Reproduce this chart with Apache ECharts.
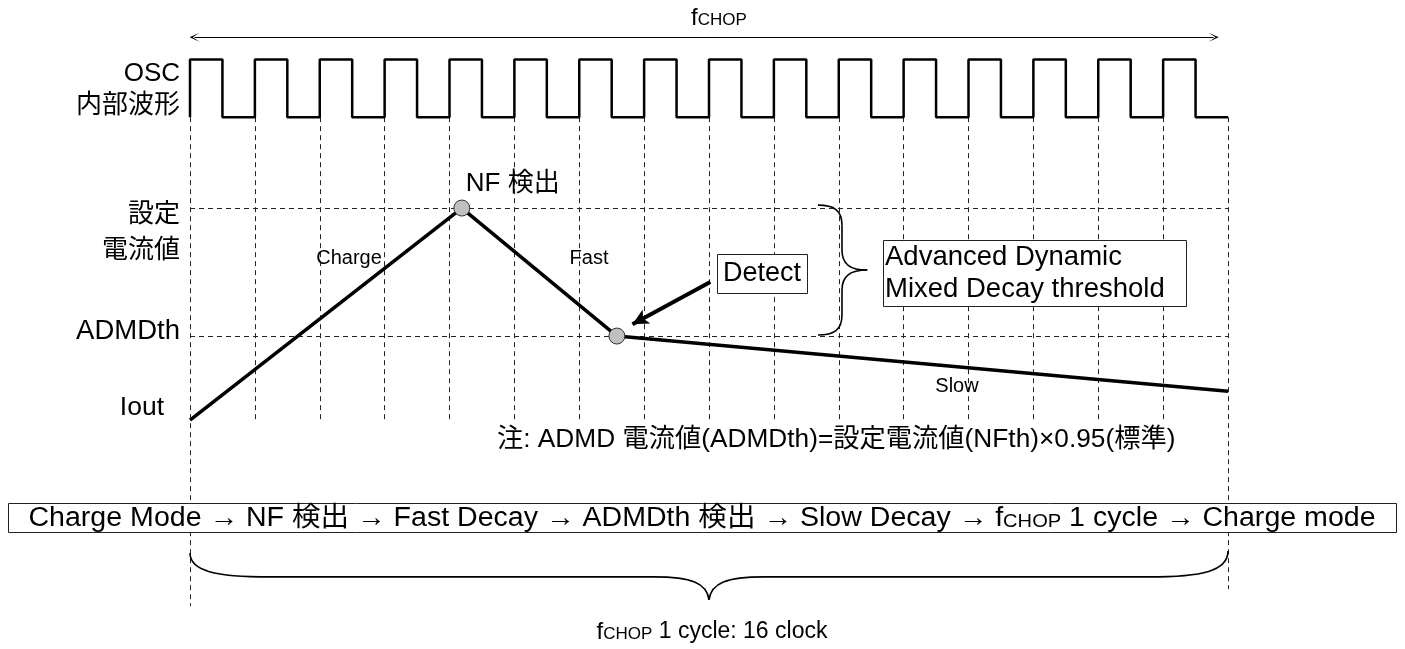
<!DOCTYPE html>
<html>
<head>
<meta charset="utf-8">
<title>fCHOP / ADMD timing</title>
<script src="https://cdn.jsdelivr.net/npm/echarts@6/dist/echarts.min.js"></script>
<style>
html,body{margin:0;padding:0;background:#fff;}
#chart{width:1405px;height:649px;}
</style>
</head>
<body>
<div id="chart"></div>
<script>
// ---------------- data (x = clock count, y = arbitrary level units) ----------------
const clockTicks = [0,1,2,3,4,5,6,7,8,9,10,11,12,13,14,15,16];
const oscTimes  = [0,0.5,1,1.5,2,2.5,3,3.5,4,4.5,5,5.5,6,6.5,7,7.5,8,8.5,9,9.5,10,10.5,11,11.5,12,12.5,13,13.5,14,14.5,15,15.5,16];
const oscLevels = [8.4,10,8.4,10,8.4,10,8.4,10,8.4,10,8.4,10,8.4,10,8.4,10,8.4,10,8.4,10,8.4,10,8.4,10,8.4,10,8.4,10,8.4,10,8.4,10,8.4];
const oscLow = 8.4;
const ioutTimes  = [0, 4.19, 6.58, 16];
const ioutValues = [0, 5.88, 2.33, 0.80];
const nfTh = 5.88;
const admdTh = 2.33;
const detectTimes  = [4.19, 6.58];
const detectValues = [5.88, 2.33];
const guideBottoms = [-5.16,-0.06,-0.06,-0.06,-0.06,-0.06,-0.06,-0.06,-0.06,-0.06,-0.06,-0.06,-0.06,-0.06,-0.06,-0.06,-4.69];
const levelLabels = ['OSC\n内部波形', '設定\n電流値', 'ADMDth', 'Iout'];
const phaseLabels = ['Charge', 'Fast', 'Slow'];
const flowSteps = ['Charge Mode', 'NF 検出', 'Fast Decay', 'ADMDth 検出', 'Slow Decay', '{f|f}{s|CHOP} 1 cycle', 'Charge mode'];
const noteText = '注: ADMD 電流値(ADMDth)=設定電流値(NFth)×0.95(標準)';
const cycleText = '{f|f}{s|CHOP} 1 cycle: 16 clock';

// ---------------- chart ----------------
const FF = '"Liberation Sans", Arial, "Noto Sans CJK JP", sans-serif';
const chart = echarts.init(document.getElementById('chart'));

const guideLines = [];
clockTicks.forEach((k, i) => guideLines.push([{coord: [k, oscLow]}, {coord: [k, guideBottoms[i]]}]));
guideLines.push([{coord: [0, nfTh]}, {coord: [16, nfTh]}]);
guideLines.push([{coord: [0, admdTh]}, {coord: [16, admdTh]}]);

const chevron = 'path://M0,10 L5,0 L10,10 L5,3.2 Z';

const option = {
  animation: false,
  backgroundColor: '#ffffff',
  grid: {left: 190, right: 177, top: 0, bottom: 0, containLabel: false, outerBoundsMode: 'none'},
  xAxis: {type: 'value', min: 0, max: 16, show: false},
  yAxis: {type: 'value', min: -6.35, max: 11.65, show: false},
  series: [
    {
      name: 'guides', type: 'line', data: [[0, nfTh]], showSymbol: false, silent: true, z: 1,
      lineStyle: {opacity: 0},
      markLine: {
        silent: true, symbol: ['none', 'none'], label: {show: false}, emphasis: {disabled: true},
        lineStyle: {color: '#222', width: 1, type: [5, 4]},
        data: guideLines
      }
    },
    {
      name: 'OSC', type: 'line', step: 'start', showSymbol: false, silent: true, z: 5, clip: false,
      data: oscTimes.map((t, i) => [t, oscLevels[i]]),
      lineStyle: {color: '#000', width: 2.5}
    },
    {
      name: 'Iout', type: 'line', showSymbol: false, silent: true, z: 6, clip: false,
      data: ioutTimes.map((t, i) => [t, ioutValues[i]]),
      lineStyle: {color: '#000', width: 3.5}
    },
    {
      name: 'detect', type: 'scatter', silent: true, z: 8, symbolSize: 16,
      data: detectTimes.map((t, i) => [t, detectValues[i]]),
      itemStyle: {color: '#c0c0c0', borderColor: '#333', borderWidth: 1, opacity: 1}
    },
    {
      name: 'arrows', type: 'line', data: [[0, nfTh]], showSymbol: false, silent: true, z: 9,
      lineStyle: {opacity: 0},
      markLine: {
        silent: true, label: {show: false}, emphasis: {disabled: true},
        data: [
          [{coord: [0.07, 10.62], symbol: chevron, symbolSize: [9, 10], lineStyle: {color: '#000', width: 1, type: 'solid'}},
           {coord: [15.78, 10.62], symbol: chevron, symbolSize: [9, 10]}],
          [{coord: [8.02, 3.83], symbol: 'none', lineStyle: {color: '#000', width: 4, type: 'solid'}},
           {coord: [6.82, 2.66], symbol: 'arrow', symbolSize: [12, 16]}]
        ]
      }
    }
  ]
};
chart.setOption(option);

const px = (x, y) => chart.convertToPixel({gridIndex: 0}, [x, y]);

function text(x, y, t, o, extra) {
  const st = Object.assign({text: t, fontFamily: FF, fontSize: 26, fill: '#000',
    align: 'left', verticalAlign: 'middle'}, o || {});
  st.textAlign = st.align; st.textVerticalAlign = st.verticalAlign;
  return Object.assign({type: 'text', x: x, y: y, z: 120, silent: true, style: st}, extra || {});
}
function rect(x, y, w, h) {
  return {type: 'rect', z: 110, silent: true, shape: {x: x, y: y, width: w, height: h},
    style: {fill: '#fff', stroke: '#222', lineWidth: 1}};
}
function curve(a, b, c, d) {
  return {type: 'bezierCurve', z: 115, silent: true,
    shape: {x1: a[0], y1: a[1], cpx1: b[0], cpy1: b[1], cpx2: c[0], cpy2: c[1], x2: d[0], y2: d[1]},
    style: {stroke: '#000', lineWidth: 1.6, fill: 'none'}};
}
function seg(a, b) {
  return {type: 'line', z: 115, silent: true, shape: {x1: a[0], y1: a[1], x2: b[0], y2: b[1]},
    style: {stroke: '#000', lineWidth: 1.6}};
}

// bottom brace (fCHOP cycle), anchored to clock 0..16
const [bL, bTop] = px(0, -3.69);
const [bR] = px(16, -3.69);
const [bM, bTip] = px(8, -4.99);
const bMid = px(0, -4.35)[1];
const bottomBrace = [
  curve([bL, bTop], [bL, bMid - 6], [bL + 25, bMid], [bL + 80, bMid]),
  seg([bL + 80, bMid], [bM - 55, bMid]),
  curve([bM - 55, bMid], [bM - 18, bMid], [bM - 2, bMid + 6], [bM, bTip]),
  curve([bM, bTip], [bM + 2, bMid + 6], [bM + 18, bMid], [bM + 55, bMid]),
  seg([bM + 55, bMid], [bR - 80, bMid]),
  curve([bR - 80, bMid], [bR - 25, bMid], [bR, bMid - 6], [bR, bTop - 2])
];

// right brace spanning NFth .. ADMDth
const [r0, rTop] = px(9.68, 5.96);
const rS = px(10.05, 0)[0];
const [rT, rMid] = px(10.44, 4.16);
const rBot = px(9.68, 2.36)[1];
const rightBrace = [
  curve([r0, rTop], [rS - 8, rTop], [rS, rTop + 5], [rS, rTop + 20]),
  seg([rS, rTop + 20], [rS, rMid - 20]),
  curve([rS, rMid - 20], [rS, rMid - 6], [rS + 8, rMid], [rT, rMid]),
  curve([rT, rMid], [rS + 8, rMid], [rS, rMid + 6], [rS, rMid + 20]),
  seg([rS, rMid + 20], [rS, rBot - 20]),
  curve([rS, rBot - 20], [rS, rBot - 5], [rS - 8, rBot], [r0, rBot])
];

const peak = px(detectTimes[0], detectValues[0]);
const subRich = (fs, ss, pad) => ({f: {fontSize: fs, fontFamily: FF}, s: {fontSize: ss, fontFamily: FF, padding: [pad, 0, 0, 0]}});

const elements = [
  // top fCHOP label
  text(719, 18, '{f|f}{s|CHOP}', {align: 'center', rich: subRich(24, 17, 5)}),
  // level labels
  text(180, 90, levelLabels[0], {align: 'right', lineHeight: 32, fontSize: 26}),
  text(180, 233, levelLabels[1], {align: 'right', lineHeight: 36, fontSize: 26}),
  text(180, 331, levelLabels[2], {align: 'right', fontSize: 27.5}),
  text(164, 408, levelLabels[3], {align: 'right', fontSize: 26.5}),
  // NF detect label
  text(peak[0] + 4, peak[1] - 24, 'NF 検出', {fontSize: 26}),
  // phase labels
  text(349, 258, phaseLabels[0], {align: 'center', fontSize: 20}),
  text(589, 258, phaseLabels[1], {align: 'center', fontSize: 20}),
  text(957, 386, phaseLabels[2], {align: 'center', fontSize: 20}),
  // Detect box
  rect(717.5, 254.5, 90, 39),
  text(762, 274, 'Detect', {align: 'center', fontSize: 27}),
  // ADMD box
  rect(883.5, 240.5, 303, 66),
  text(885, 257, 'Advanced Dynamic', {fontSize: 27.5}),
  text(885, 289, 'Mixed Decay threshold', {fontSize: 27.5}),
  // note
  text(497, 440, noteText, {fontSize: 26}, {scaleX: 1.01}),
  // flow box
  rect(8.5, 503.5, 1388, 29),
  text(702, 519, flowSteps.join(' → '), {align: 'center', fontSize: 27, rich: subRich(27, 19, 6)}, {scaleX: 1.058}),
  // cycle label
  text(712, 632, cycleText, {align: 'center', fontSize: 23, rich: subRich(24, 17, 5)})
].concat(bottomBrace, rightBrace);

chart.setOption({graphic: {elements: elements}});
</script>
</body>
</html>
